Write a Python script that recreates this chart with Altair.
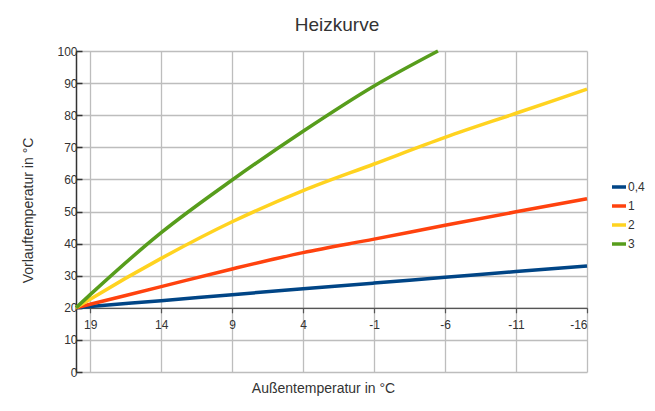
import altair as alt
import pandas as pd

# --- data ---
temps = [20, 19, 14, 9, 4, -1, -6, -11, -16]
s04 = [20.0, 20.4, 22.2, 24.1, 25.9, 27.7, 29.5, 31.3, 33.0]
s1 = [20.0, 21.1, 26.6, 32.1, 37.2, 41.4, 45.7, 49.9, 54.0]
s2 = [20.0, 22.7, 35.4, 46.8, 56.5, 64.8, 73.1, 80.6, 88.1]
temps3 = [20, 19, 14, 9, 4, -1, -5.5]
s3 = [20.0, 24.1, 43.4, 59.8, 75.0, 89.1, 100.0]

series_names = ["0,4", "1", "2", "3"]
colors = ["#004586", "#ff420e", "#ffd320", "#579d1c"]
x_ticks = [19, 14, 9, 4, -1, -6, -11, -16]
y_ticks = [0, 10, 20, 30, 40, 50, 60, 70, 80, 90, 100]
chart_title = ["Heizkurve"]

rows = []
for name, xs, ys in [("0,4", temps, s04), ("1", temps, s1), ("2", temps, s2), ("3", temps3, s3)]:
    for i, (x, y) in enumerate(zip(xs, ys)):
        rows.append({"Kurve": name, "t": x, "v": y, "o": i})
df = pd.DataFrame(rows)
title_df = pd.DataFrame({"label": chart_title})

FONT = "Liberation Sans"

lines = alt.Chart(df).mark_line(strokeWidth=3.5, interpolate="monotone").encode(
    x=alt.X(
        "t:Q",
        scale=alt.Scale(domain=[-16, 20], reverse=True, nice=False, zero=False),
        axis=alt.Axis(
            values=x_ticks,
            labelExpr="datum.value < 0 ? '-' + abs(datum.value) : '' + datum.value",
            offset=-64.2,
            grid=True,
            gridColor="#bdbdbd",
            gridWidth=1.3,
            domainColor="#555555",
            domainWidth=1.2,
            tickColor="#555555",
            tickSize=5,
            tickWidth=1.2,
            labelPadding=7,
            labelFontSize=12,
            labelColor="#333333",
            labelFont=FONT,
            title="Außentemperatur in °C",
            titleFont=FONT,
            titleFontSize=14,
            titleFontWeight="normal",
            titleColor="#333333",
            titleX=247,
            titleY=81,
            titleAlign="center",
            titleBaseline="middle",
        ),
    ),
    y=alt.Y(
        "v:Q",
        scale=alt.Scale(domain=[0, 100], nice=False),
        axis=alt.Axis(
            values=y_ticks,
            grid=True,
            gridColor="#bdbdbd",
            gridWidth=1.3,
            domainColor="#333333",
            domainWidth=1.5,
            tickColor="#333333",
            tickSize={"expr": "-6"},
            tickWidth=1.5,
            labelPadding=5,
            labelFontSize=12,
            labelColor="#333333",
            labelFont=FONT,
            title="Vorlauftemperatur in °C",
            titleFont=FONT,
            titleFontSize=14,
            titleFontWeight="normal",
            titleColor="#333333",
            titleX=-48,
            titleY=159,
            titleAlign="center",
            titleBaseline="middle",
            titleAngle=270,
        ),
    ),
    color=alt.Color(
        "Kurve:N",
        scale=alt.Scale(domain=series_names, range=colors),
        legend=alt.Legend(
            title=None,
            orient="none",
            legendX=534,
            legendY=127,
            symbolType="stroke",
            symbolStrokeWidth=3.5,
            symbolSize=196,
            labelFont=FONT,
            labelFontSize=12,
            labelColor="#333333",
            labelOffset=0,
            rowPadding=3,
            padding=0,
        ),
    ),
    order="o:Q",
)

title_text = alt.Chart(title_df).mark_text(
    font=FONT,
    fontSize=19,
    color="#333333",
    align="center",
    baseline="alphabetic",
).encode(
    text="label:N",
    x=alt.value(261),
    y=alt.value(-20),
)

chart = alt.layer(lines, title_text).properties(
    width=511,
    height=321,
    autosize=alt.AutoSizeParams(type="none"),
    padding={"left": 68, "top": 43, "right": 60, "bottom": 31},
    background="white",
).configure_view(stroke=None)

chart.save("out.html", embed_options={"renderer": "svg", "actions": False})
